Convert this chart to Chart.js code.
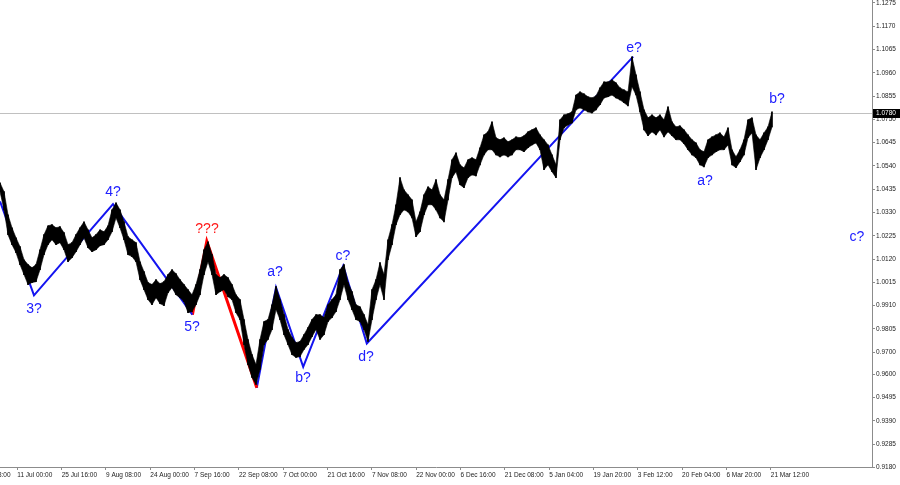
<!DOCTYPE html>
<html>
<head>
<meta charset="utf-8">
<script src="https://cdn.jsdelivr.net/npm/chart.js@4.4.0/dist/chart.umd.min.js"></script>
<style>
  html, body { margin: 0; padding: 0; background: #fff; }
  #wrap { width: 900px; height: 485px; }
</style>
</head>
<body>
<div id="wrap"><canvas id="chart" width="900" height="485"></canvas></div>
<script>
// 价格数据（每个样本一根柱：最高 / 最低）
const highs = [
  1.0464,1.0424,1.0320,1.0261,1.0216,1.0176,1.0117,1.0095,1.0081,1.0095,
  1.0162,1.0230,1.0270,1.0275,1.0261,1.0266,1.0239,1.0185,1.0194,1.0230,
  1.0261,1.0288,1.0252,1.0216,1.0230,1.0252,1.0243,1.0270,1.0342,1.0374,
  1.0342,1.0288,1.0221,1.0207,1.0194,1.0108,1.0063,1.0014,1.0005,1.0027,
  1.0009,1.0018,1.0050,1.0072,1.0054,1.0027,1.0005,0.9982,0.9959,1.0005,
  1.0072,1.0162,1.0198,1.0140,1.0050,1.0036,1.0050,1.0036,1.0005,0.9959,
  0.9937,0.9847,0.9757,0.9689,0.9644,0.9757,0.9838,0.9847,0.9914,0.9996,
  0.9937,0.9869,0.9802,0.9766,0.9743,0.9748,0.9779,0.9811,0.9847,0.9869,
  0.9869,0.9856,0.9914,0.9937,0.9959,1.0072,1.0095,1.0014,0.9973,0.9914,
  0.9905,0.9869,0.9824,0.9982,1.0027,1.0104,1.0050,1.0207,1.0275,1.0365,
  1.0487,1.0432,1.0410,1.0387,1.0288,1.0333,1.0410,1.0446,1.0432,1.0478,
  1.0410,1.0387,1.0478,1.0568,1.0599,1.0545,1.0531,1.0568,1.0577,1.0568,
  1.0622,1.0680,1.0694,1.0739,1.0667,1.0658,1.0667,1.0649,1.0658,1.0671,
  1.0667,1.0676,1.0694,1.0703,1.0712,1.0680,1.0658,1.0635,1.0590,1.0545,
  1.0748,1.0770,1.0775,1.0784,1.0860,1.0874,1.0865,1.0852,1.0847,1.0856,
  1.0892,1.0919,1.0919,1.0928,1.0915,1.0892,1.0883,1.0874,1.1032,1.0951,
  1.0874,1.0793,1.0757,1.0770,1.0757,1.0770,1.0748,1.0807,1.0739,1.0716,
  1.0721,1.0703,1.0680,1.0658,1.0644,1.0613,1.0604,1.0658,1.0671,1.0680,
  1.0689,1.0671,1.0712,1.0613,1.0581,1.0613,1.0658,1.0748,1.0757,1.0680,
  1.0658,1.0689,1.0716,1.0784
];
const lows = [
  1.0424,1.0342,1.0230,1.0185,1.0149,1.0095,1.0050,1.0005,1.0014,1.0018,
  1.0072,1.0140,1.0185,1.0207,1.0185,1.0194,1.0162,1.0108,1.0126,1.0153,
  1.0185,1.0216,1.0171,1.0153,1.0162,1.0180,1.0185,1.0207,1.0243,1.0306,
  1.0261,1.0207,1.0140,1.0131,1.0108,1.0027,0.9982,0.9937,0.9914,0.9946,
  0.9919,0.9910,0.9968,0.9991,0.9959,0.9946,0.9928,0.9878,0.9883,0.9914,
  0.9959,1.0050,1.0108,1.0050,0.9959,0.9973,0.9982,0.9950,0.9937,0.9878,
  0.9847,0.9734,0.9644,0.9586,0.9554,0.9622,0.9734,0.9757,0.9802,0.9892,
  0.9847,0.9779,0.9734,0.9689,0.9676,0.9680,0.9712,0.9734,0.9770,0.9802,
  0.9757,0.9779,0.9838,0.9856,0.9883,0.9937,1.0005,0.9937,0.9892,0.9847,
  0.9838,0.9802,0.9748,0.9847,0.9937,1.0005,0.9937,1.0117,1.0185,1.0275,
  1.0320,1.0342,1.0333,1.0306,1.0221,1.0243,1.0320,1.0365,1.0365,1.0342,
  1.0306,1.0288,1.0387,1.0487,1.0514,1.0455,1.0442,1.0487,1.0500,1.0495,
  1.0545,1.0590,1.0613,1.0613,1.0590,1.0581,1.0590,1.0581,1.0590,1.0613,
  1.0613,1.0604,1.0622,1.0635,1.0644,1.0613,1.0523,1.0545,1.0514,1.0487,
  1.0658,1.0712,1.0725,1.0734,1.0793,1.0802,1.0793,1.0784,1.0779,1.0793,
  1.0816,1.0847,1.0852,1.0860,1.0847,1.0838,1.0825,1.0811,1.0897,1.0860,
  1.0784,1.0703,1.0676,1.0694,1.0680,1.0703,1.0671,1.0694,1.0676,1.0658,
  1.0658,1.0640,1.0613,1.0590,1.0577,1.0545,1.0536,1.0577,1.0590,1.0604,
  1.0613,1.0613,1.0635,1.0545,1.0532,1.0559,1.0590,1.0667,1.0689,1.0523,
  1.0577,1.0613,1.0658,1.0716
];

// 时间轴刻度（位置以柱序号计）
const timeTicks = [-6.75, 4.33, 15.41, 26.49, 37.57, 48.65, 59.73, 70.81, 81.89, 92.97,
  104.05, 115.13, 126.21, 137.29, 148.37, 159.45, 170.53, 181.61, 192.69];
const timeLabels = ['26 Jun 08:00', '11 Jul 00:00', '25 Jul 16:00', '9 Aug 08:00', '24 Aug 00:00',
  '7 Sep 16:00', '22 Sep 08:00', '7 Oct 00:00', '21 Oct 16:00', '7 Nov 08:00', '22 Nov 00:00',
  '6 Dec 16:00', '21 Dec 08:00', '5 Jan 04:00', '19 Jan 20:00', '3 Feb 12:00', '20 Feb 04:00',
  '6 Mar 20:00', '21 Mar 12:00'];

// 价格轴刻度
const priceTicks = [1.1275, 1.1170, 1.1065, 1.0960, 1.0855, 1.0750, 1.0645, 1.0540, 1.0435,
  1.0330, 1.0225, 1.0120, 1.0015, 0.9910, 0.9805, 0.9700, 0.9600, 0.9495, 0.9390, 0.9285, 0.9180];
const currentPrice = 1.0780;

// 波浪线
const waveAx = [0, 8.5, 28.25, 48.1];
const waveAy = [1.0380, 0.9956, 1.0368, 0.9869];
const waveRx = [48.1, 51.7, 64.2];
const waveRy = [0.9869, 1.0200, 0.9539];
const waveBx = [64.2, 69, 75.8, 85.8, 91.7, 158.3];
const waveBy = [0.9539, 0.9992, 0.9634, 1.0090, 0.9739, 1.1033];

// 波浪标注
const markText = ['3?', '4?', '5?', '???', 'a?', 'b?', 'c?', 'd?', 'e?', 'a?', 'b?', 'c?'];
const markX = [8.5, 28.25, 48, 51.75, 68.75, 75.75, 85.75, 91.5, 158.5, 176.25, 194.25, 214.25];
const markY = [0.9896, 1.0423, 0.9815, 1.0257, 1.0059, 0.9581, 1.0135, 0.9676, 1.1072, 1.0473, 1.0842, 1.0221];
const markColor = ['#2020ff', '#2020ff', '#2020ff', '#ff1a1a', '#2020ff', '#2020ff', '#2020ff', '#2020ff', '#2020ff', '#2020ff', '#2020ff', '#2020ff'];

const AXIS = '#8c8c8c';
const pts = (xs, ys) => xs.map((x, i) => ({ x: x, y: ys[i] }));

// 当前价格线和标签
const pricePlugin = {
    id: 'priceLine',
    beforeDatasetsDraw(chart) {
        const { ctx, chartArea, scales } = chart;
        const y = Math.round(scales.y.getPixelForValue(currentPrice)) + 0.5;
        ctx.save();
        ctx.strokeStyle = '#c0c0c0';
        ctx.lineWidth = 1;
        ctx.beginPath();
        ctx.moveTo(chartArea.left, y);
        ctx.lineTo(chartArea.right, y);
        ctx.stroke();
        ctx.restore();
    },
    afterDraw(chart) {
        const { ctx, chartArea, scales } = chart;
        const y = Math.round(scales.y.getPixelForValue(currentPrice));
        ctx.save();
        ctx.fillStyle = '#000';
        ctx.fillRect(chartArea.right + 1, y - 4, 28, 9);
        ctx.fillStyle = '#fff';
        ctx.font = '6.5px "Liberation Sans"';
        ctx.textBaseline = 'middle';
        ctx.fillText(currentPrice.toFixed(4), chartArea.right + 4, y + 0.5);
        ctx.restore();
    }
};

// 波浪标注文字
const markPlugin = {
    id: 'marks',
    afterDatasetsDraw(chart) {
        const { ctx, scales } = chart;
        ctx.save();
        ctx.font = '14px "Liberation Sans"';
        ctx.textAlign = 'center';
        ctx.textBaseline = 'middle';
        markText.forEach((t, i) => {
            ctx.fillStyle = markColor[i];
            ctx.fillText(t, scales.x.getPixelForValue(markX[i]), scales.y.getPixelForValue(markY[i]));
        });
        ctx.restore();
    }
};

window.onload = function() {
    const idx = highs.map((v, i) => i);
    const ctx = document.getElementById('chart').getContext('2d');
    new Chart(ctx, {
        type: 'line',
        data: {
            datasets: [
                { data: pts(idx, highs), borderColor: '#000', borderWidth: 0.6, pointRadius: 0, fill: false, tension: 0 },
                { data: pts(idx, lows), borderColor: '#000', borderWidth: 0.6, pointRadius: 0, fill: '-1', backgroundColor: '#000', tension: 0 },
                { type: 'bar', data: idx.map(i => ({ x: i, y: [lows[i], highs[i]] })), backgroundColor: '#000', barThickness: 1, borderWidth: 0 },
                { data: pts(waveAx, waveAy), borderColor: '#1414f0', borderWidth: 2, pointRadius: 0, fill: false, tension: 0 },
                { data: pts(waveRx, waveRy), borderColor: '#ff0000', borderWidth: 3, pointRadius: 0, fill: false, tension: 0 },
                { data: pts(waveBx, waveBy), borderColor: '#1414f0', borderWidth: 2, pointRadius: 0, fill: false, tension: 0 }
            ]
        },
        options: {
            responsive: false,
            devicePixelRatio: 1,
            animation: false,
            layout: { padding: 0 },
            plugins: { legend: { display: false }, tooltip: { enabled: false } },
            scales: {
                x: {
                    type: 'linear', min: 0, max: 218, offset: false,
                    afterFit: s => { s.height = 18; s.paddingLeft = 0; s.paddingRight = 0; },
                    afterBuildTicks: s => { s.ticks = timeTicks.map(v => ({ value: v })); },
                    border: { display: true, color: AXIS },
                    grid: { drawOnChartArea: false, tickLength: 3, color: AXIS, offset: false },
                    ticks: {
                        autoSkip: false, maxRotation: 0, minRotation: 0, align: 'start', padding: 1,
                        color: '#222', font: { family: 'Liberation Sans', size: 6.5 },
                        callback: (v, i) => timeLabels[i]
                    }
                },
                y: {
                    position: 'right', min: 0.9182, max: 1.12885,
                    afterFit: s => { s.width = 28; s.paddingTop = 0; s.paddingBottom = 0; },
                    afterBuildTicks: s => { s.ticks = priceTicks.map(v => ({ value: v })); },
                    border: { display: true, color: AXIS },
                    grid: { drawOnChartArea: false, tickLength: 3, color: AXIS },
                    ticks: {
                        padding: 1, color: '#222', font: { family: 'Liberation Sans', size: 6.5 },
                        callback: v => v.toFixed(4)
                    }
                }
            }
        },
        plugins: [pricePlugin, markPlugin]
    });
};
</script>
</body>
</html>
